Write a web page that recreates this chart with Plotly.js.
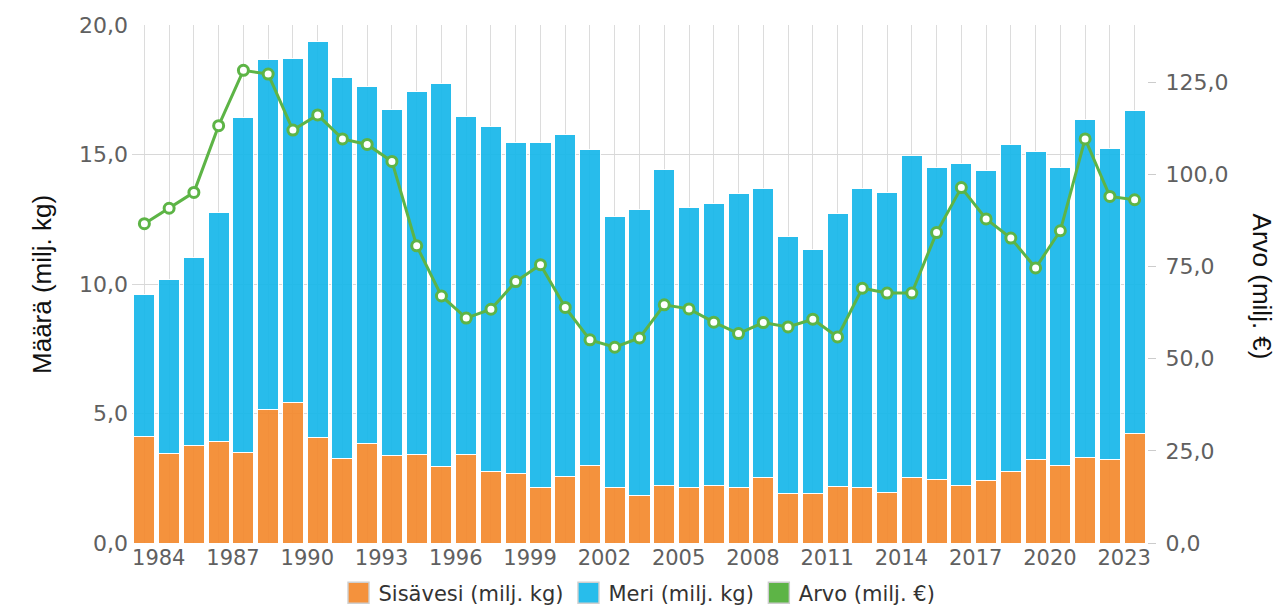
<!DOCTYPE html>
<html><head><meta charset="utf-8">
<script src="https://cdn.plot.ly/plotly-3.0.1.min.js"></script>
<style>html,body{margin:0;padding:0;background:#fff;overflow:hidden}#chart{width:1281px;height:607px}</style>
</head><body><div id="chart"></div>
<script>
const years = [1983,1984,1985,1986,1987,1988,1989,1990,1991,1992,1993,1994,1995,1996,1997,1998,1999,2000,2001,2002,2003,2004,2005,2006,2007,2008,2009,2010,2011,2012,2013,2014,2015,2016,2017,2018,2019,2020,2021,2022,2023];
const sisavesi = [4.12,3.44,3.78,3.90,3.51,5.14,5.44,4.09,3.25,3.84,3.36,3.43,2.95,3.43,2.77,2.68,2.13,2.55,2.98,2.13,1.84,2.23,2.15,2.23,2.15,2.51,1.93,1.93,2.20,2.14,1.96,2.53,2.45,2.23,2.41,2.77,3.23,2.98,3.31,3.23,4.21];
const meri = [5.47,6.75,7.24,8.85,12.92,13.54,13.26,15.27,14.74,13.77,13.38,13.99,14.80,13.05,13.31,12.80,13.32,13.23,12.20,10.48,11.04,12.18,10.81,10.86,11.36,11.18,9.92,9.42,10.53,11.55,11.56,12.42,12.05,12.42,11.98,12.60,11.89,11.50,13.05,12.02,12.48];
const arvo = [86.6,90.8,95.1,113.2,128.2,127.2,112.0,116.1,109.6,108.1,103.5,80.6,67.0,61.0,63.4,70.9,75.5,63.9,55.1,53.1,55.6,64.6,63.5,59.9,56.8,59.8,58.6,60.7,55.9,69.1,67.8,67.8,84.2,96.4,87.9,82.7,74.6,84.7,109.6,94.0,93.1];
const tickYears = [1984,1987,1990,1993,1996,1999,2002,2005,2008,2011,2014,2017,2020,2023];
const tickLabels = tickYears.map(String);
const leftTicks = [0,5,10,15,20];
const rightTicks = [0,25,50,75,100,125];

const names = {sis: 'Sisävesi (milj. kg)', meri: 'Meri (milj. kg)', arvo: 'Arvo (milj. €)'};
const colors = {sis: '#F48A2F', meri: '#18B8EA', arvo: '#5DB446'};
const tickFont = {family: 'DejaVu Sans, Verdana, sans-serif', size: 22, color: '#606060'};

const traces = [
  {type: 'bar', x: years, y: sisavesi, name: names.sis, opacity: 0.93,
   marker: {color: colors.sis, line: {color: '#ffffff', width: 1}}, hoverinfo: 'x+y'},
  {type: 'bar', x: years, y: meri, name: names.meri, opacity: 0.93,
   marker: {color: colors.meri, line: {color: '#ffffff', width: 1}}, hoverinfo: 'x+y'},
  {type: 'bar', x: years, y: years.map(() => null), name: names.arvo,
   marker: {color: colors.arvo, line: {color: '#ffffff', width: 1}}, hoverinfo: 'skip'},
  {type: 'scatter', mode: 'lines+markers', x: years, y: arvo, yaxis: 'y2', name: names.arvo,
   showlegend: false, line: {color: colors.arvo, width: 3},
   marker: {symbol: 'circle', size: 10, color: '#ffffff', line: {color: colors.arvo, width: 3}}}
];

const layout = {
  width: 1281, height: 607,
  margin: {l: 132, r: 134, t: 25, b: 64, autoexpand: false},
  paper_bgcolor: '#ffffff', plot_bgcolor: '#ffffff',
  separators: ', ',
  barmode: 'stack', bargap: 0.15,
  showlegend: true,
  legend: {orientation: 'h', x: 0.5, xanchor: 'center', xref: 'paper',
           y: 0.023, yanchor: 'middle', yref: 'container',
           font: {family: 'DejaVu Sans, Verdana, sans-serif', size: 21, color: '#333333'},
           traceorder: 'normal', itemwidth: 30},
  xaxis: {
    type: 'linear', range: [1982.5, 2023.5], automargin: false,
    tickmode: 'array', tickvals: tickYears.map(v => v - 0.42), ticktext: tickLabels,
    showgrid: false, zeroline: false, showline: false, ticks: '',
    tickfont: {family: 'DejaVu Sans, Verdana, sans-serif', size: 21, color: '#606060'},
    minor: {tickmode: 'linear', tick0: 1983, dtick: 1, showgrid: true, gridcolor: '#dcdcdc', gridwidth: 1, ticks: ''}
  },
  yaxis: {
    range: [0, 20], tickmode: 'array', tickvals: leftTicks, tickformat: '.1f', automargin: false,
    showgrid: true, gridcolor: '#d8d8d8', gridwidth: 1, zeroline: false, showline: false,
    ticks: '', tickfont: tickFont, ticklabelstandoff: 3
  },
  yaxis2: {
    overlaying: 'y', side: 'right', range: [0, 140.5], tickmode: 'array', tickvals: rightTicks,
    tickformat: '.1f', showgrid: false, zeroline: false, showline: false, automargin: false,
    ticks: 'outside', ticklen: 8, tickcolor: '#cccccc', tickwidth: 1, tickfont: tickFont,
    ticklabelstandoff: 5
  },
  annotations: [
    {text: 'Määrä (milj. kg)', xref: 'paper', yref: 'paper', x: -0.0887, y: 0.5,
     xanchor: 'center', yanchor: 'middle', textangle: -90, showarrow: false,
     font: {family: 'Liberation Sans, Arial, sans-serif', size: 26, color: '#111111'}},
    {text: 'Arvo (milj. €)', xref: 'paper', yref: 'paper', x: 1.1133, y: 0.495,
     xanchor: 'center', yanchor: 'middle', textangle: 90, showarrow: false,
     font: {family: 'Liberation Sans, Arial, sans-serif', size: 26, color: '#111111'}}
  ]
};

Plotly.newPlot('chart', traces, layout, {displayModeBar: false, staticPlot: true}).then(gd => {
  gd.querySelectorAll('.legend .legendpoints path').forEach(p => {
    p.setAttribute('transform', (p.getAttribute('transform') || '') + ' scale(1.75)');
    p.style.stroke = '#cccccc';
    p.style.strokeWidth = '0.8px';
  });
});
</script>
</body></html>
